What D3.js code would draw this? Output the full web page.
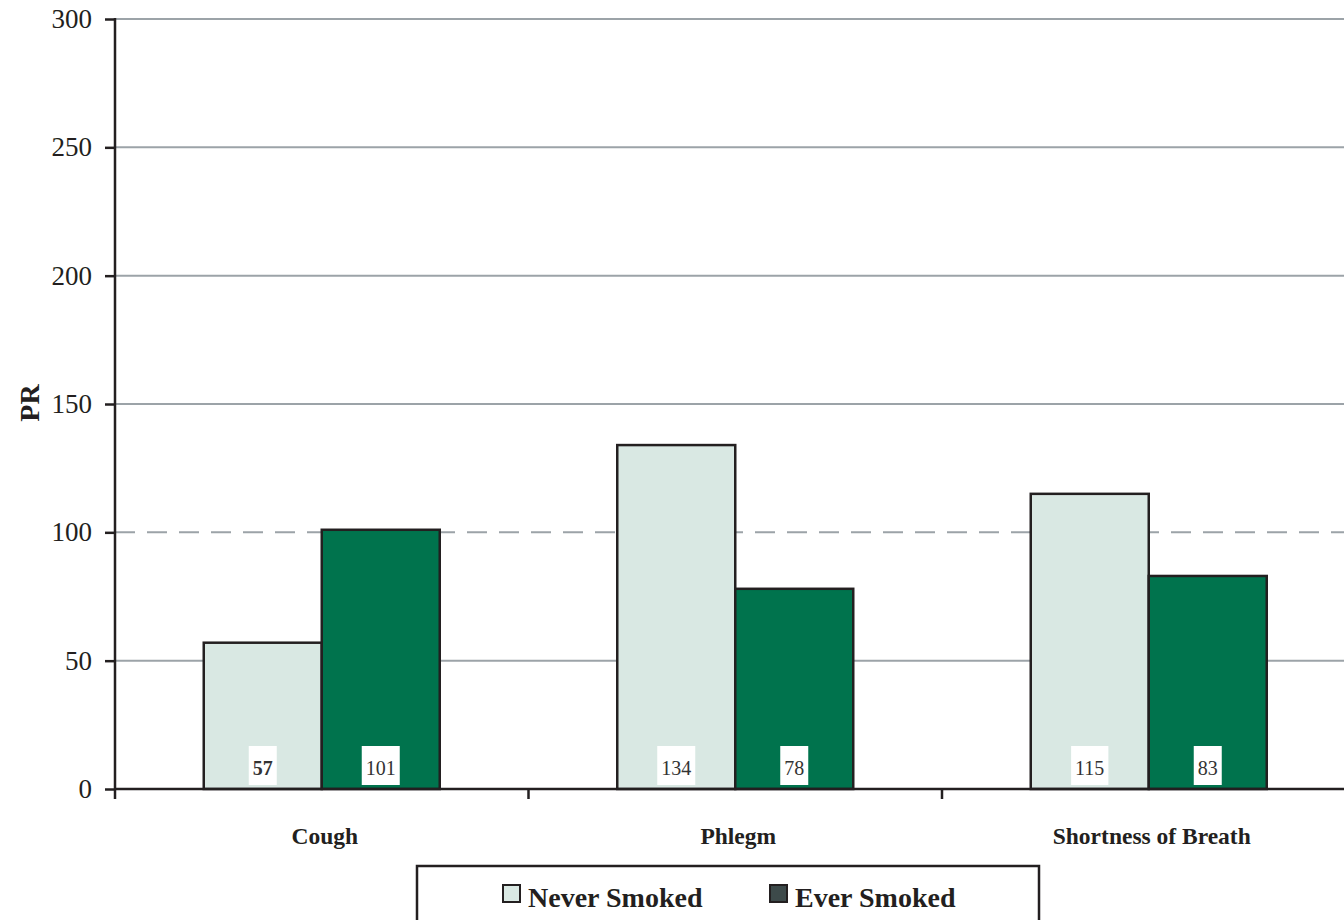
<!DOCTYPE html>
<html><head><meta charset="utf-8">
<script src="https://cdn.jsdelivr.net/npm/d3@7"></script>
<style>body{margin:0;background:#fff;}svg{display:block;}</style>
</head><body>
<svg id="c" width="1344" height="920"></svg>
<script>
const categories = ["Cough", "Phlegm", "Shortness of Breath"];
const series = ["Never Smoked", "Ever Smoked"];
const neverSmoked = [57, 134, 115];
const everSmoked = [101, 78, 83];
const yTicks = [0, 50, 100, 150, 200, 250, 300];
const boldLabel = [[true, false, false], [false, false, false]];

(function(){
const svg = d3.select("#c");
const serif = "'Liberation Serif','Times New Roman',serif";
const mLeft = 115, mTop = 19, mBottom = 789;
const catW = 413.5;
const x = d3.scaleBand().domain(categories).range([mLeft, mLeft + catW * 3]).paddingInner(0).paddingOuter(0);
const y = d3.scaleLinear().domain([0, 300]).range([mBottom, mTop]);
const xs = d3.scaleBand().domain(series).range([0, 236]);
const colors = ["#d9e8e3", "#00734d"];
const legendColors = ["#d9e8e3", "#3d4a4a"];
const vals = [neverSmoked, everSmoked];

// gridlines
svg.append("g").selectAll("line").data(yTicks.filter(t => t > 0)).join("line")
  .attr("x1", mLeft).attr("x2", 1344)
  .attr("y1", d => y(d)).attr("y2", d => y(d))
  .attr("stroke", "#9ca3a8").attr("stroke-width", 2)
  .attr("stroke-dasharray", d => d === 100 ? "20,12" : null);

// bars
const groups = svg.append("g").selectAll("g").data(categories).join("g")
  .attr("transform", d => `translate(${x(d) + (catW - 236) / 2},0)`);
groups.each(function(cat, ci) {
  const g = d3.select(this);
  series.forEach((s, si) => {
    const v = vals[si][ci];
    g.append("rect").attr("x", xs(s)).attr("y", y(v)).attr("width", xs.bandwidth()).attr("height", y(0) - y(v))
      .attr("fill", colors[si]).attr("stroke", "#231f20").attr("stroke-width", 2.5);
  });
});
groups.each(function(cat, ci) {
  const g = d3.select(this);
  series.forEach((s, si) => {
    const v = vals[si][ci];
    const cx = xs(s) + xs.bandwidth() / 2;
    const t = g.append("text").attr("x", cx).attr("y", 775).attr("text-anchor", "middle")
      .attr("font-family", serif).attr("font-size", 20).attr("fill", "#333")
      .attr("font-weight", boldLabel[si][ci] ? "bold" : "normal").text(v);
    const bb = t.node().getBBox();
    g.insert("rect", "text").attr("x", bb.x - 4).attr("y", 746).attr("width", bb.width + 8).attr("height", 39).attr("fill", "#fff");
  });
});

// axes
const yAxis = svg.append("g").attr("transform", `translate(${mLeft},0)`)
  .call(d3.axisLeft(y).tickValues(yTicks).tickSize(10).tickPadding(13));
yAxis.select(".domain").remove();
yAxis.selectAll("line").attr("stroke", "#231f20").attr("stroke-width", 2.5);
yAxis.selectAll("text").attr("font-family", serif).attr("font-size", 27).attr("fill", "#231f20");
svg.append("line").attr("x1", mLeft).attr("x2", mLeft).attr("y1", mTop - 1).attr("y2", mBottom + 1)
  .attr("stroke", "#231f20").attr("stroke-width", 2.5);

const xAxis = svg.append("g").attr("transform", `translate(3,${mBottom})`)
  .call(d3.axisBottom(x).tickSize(0).tickPadding(38));
xAxis.select(".domain").remove();
xAxis.selectAll("line").remove();
xAxis.selectAll("text").attr("font-family", serif).attr("font-size", 23.5).attr("font-weight", "bold").attr("fill", "#231f20");
svg.append("line").attr("x1", mLeft).attr("x2", 1344).attr("y1", mBottom).attr("y2", mBottom)
  .attr("stroke", "#231f20").attr("stroke-width", 2.5);
svg.append("g").selectAll("line").data([0, 1, 2, 3]).join("line")
  .attr("x1", d => mLeft + d * catW).attr("x2", d => mLeft + d * catW)
  .attr("y1", mBottom).attr("y2", mBottom + 10).attr("stroke", "#231f20").attr("stroke-width", 2.5);

// y title
svg.append("text").attr("transform", "translate(39,403) rotate(-90)").attr("text-anchor", "middle")
  .attr("font-family", serif).attr("font-size", 28).attr("font-weight", "bold").attr("fill", "#231f20").text("PR");

// legend
svg.append("rect").attr("x", 417).attr("y", 866).attr("width", 622).attr("height", 70)
  .attr("fill", "#fff").attr("stroke", "#231f20").attr("stroke-width", 2.5);
const legX = [503, 770];
series.forEach((s, i) => {
  svg.append("rect").attr("x", legX[i]).attr("y", 885).attr("width", 17).attr("height", 17)
    .attr("fill", legendColors[i]).attr("stroke", "#231f20").attr("stroke-width", 2);
  svg.append("text").attr("x", legX[i] + 25).attr("y", 907).attr("font-family", serif)
    .attr("font-size", 28).attr("font-weight", "bold").attr("fill", "#231f20").text(s);
});
})();
</script>
</body></html>
